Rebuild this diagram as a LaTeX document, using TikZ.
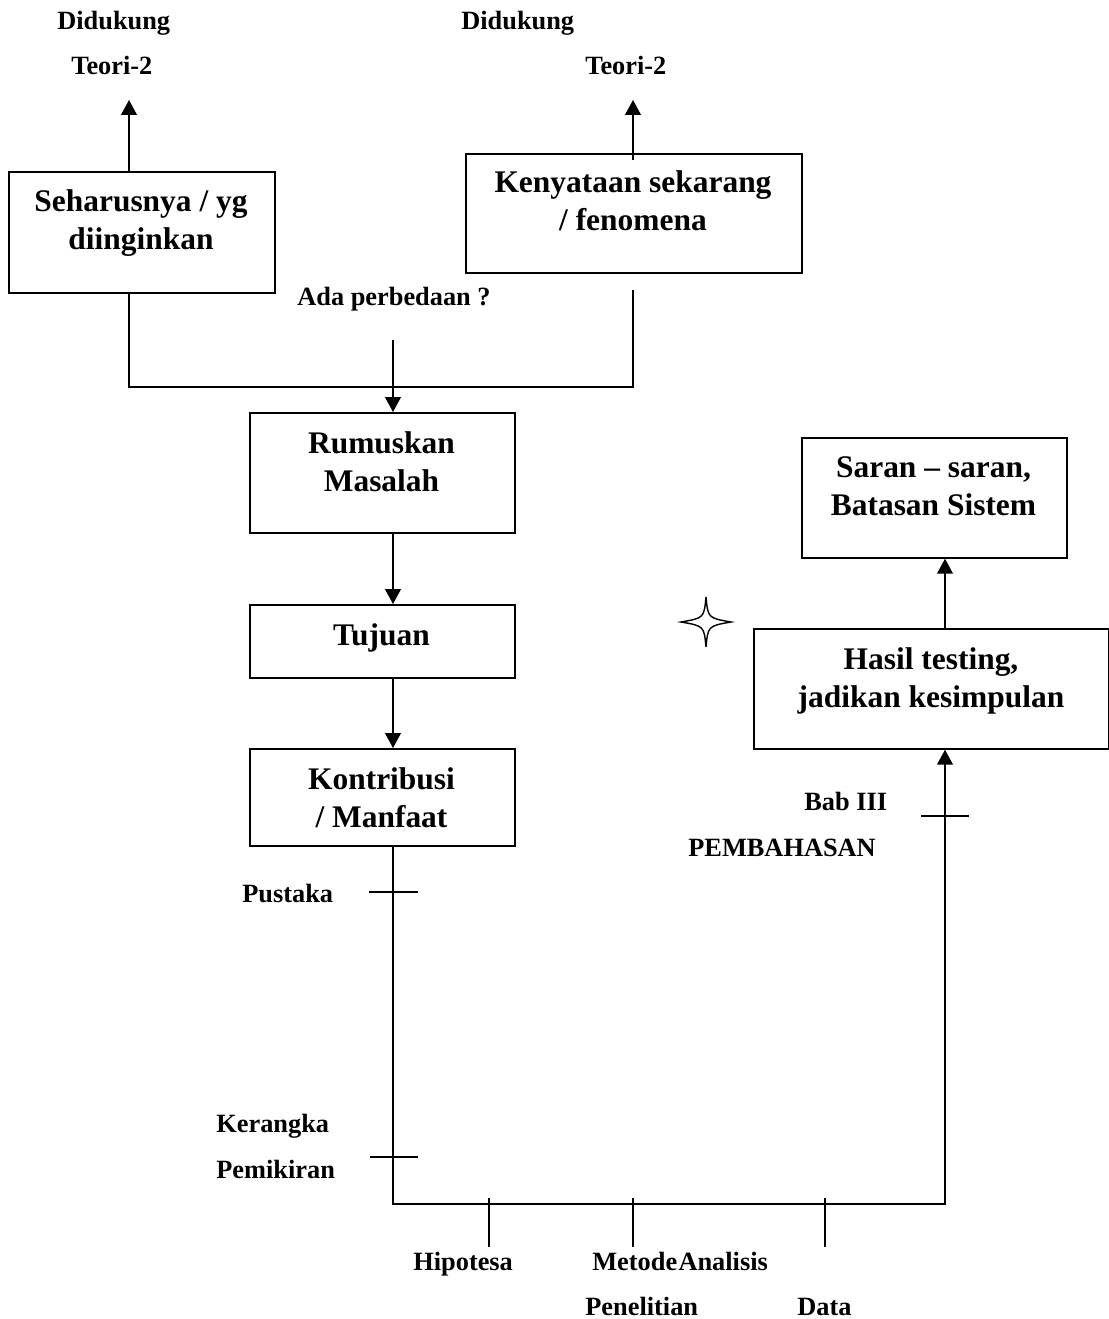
\documentclass[tikz,border=0pt]{standalone}
\usepackage{fontspec}
\setmainfont{Liberation Serif}
\usetikzlibrary{arrows.meta}
\begin{document}
\begin{tikzpicture}[x=0.02cm,y=-0.02cm,
  box/.style={draw, line width=1pt, inner sep=0pt, anchor=north west},
  big/.style={font=\fontsize{17.9}{21.5}\selectfont\bfseries, anchor=base, inner sep=0pt, align=center},
  lbl/.style={font=\fontsize{15}{18}\selectfont\bfseries, anchor=base west, inner sep=0pt},
  conn/.style={line width=0.8pt},
  arr/.style={conn, -{Triangle[length=8.5pt,width=9pt]}},
  tickmark/.style={line width=0.8pt}]
\useasboundingbox (0,0) rectangle (1109,1319);

% boxes
\node[box, minimum width=5.32cm, minimum height=2.42cm] (sb) at (8,171) {};
\node[box, minimum width=6.72cm, minimum height=2.38cm] (kn) at (465,153) {};
\node[box, minimum width=5.30cm, minimum height=2.40cm] (rm) at (249,412) {};
\node[box, minimum width=5.30cm, minimum height=1.46cm] (tj) at (249,604) {};
\node[box, minimum width=5.30cm, minimum height=1.94cm] (kt) at (249,748) {};
\node[box, minimum width=5.30cm, minimum height=2.40cm] (sr) at (801,437) {};
\node[box, minimum width=7.10cm, minimum height=2.40cm] (hs) at (753,628) {};

% box texts (anchor base = baseline of last line)
\node[big] (sbt) at (141,249) {Seharusnya / yg\\diinginkan};
\node[big] (knt) at (633,230) {Kenyataan sekarang\\/ fenomena};
\node[big] (rmt) at (381.5,491) {Rumuskan\\Masalah};
\node[big] (tjt) at (381.5,645) {Tujuan};
\node[big] (ktt) at (381.5,827) {Kontribusi\\/ Manfaat};
\node[big] (srt) at (933.5,515) {Saran -- saran,\\Batasan Sistem};
\node[big] (hst) at (931,707) {Hasil testing,\\jadikan kesimpulan};

% labels
\node[lbl] (d1) at (57,29) {Didukung};
\node[lbl] (t1) at (71,74) {Teori-2};
\node[lbl] (d2) at (461,29) {Didukung};
\node[lbl] (t2) at (585,74) {Teori-2};
\node[lbl] (ada) at (297,305) {Ada perbedaan ?};
\node[lbl] (pus) at (242,902) {Pustaka};
\node[lbl] (ker) at (216,1132) {Kerangka};
\node[lbl] (pem) at (216,1178) {Pemikiran};
\node[lbl] (bab) at (804,810) {Bab III};
\node[lbl] (pmb) at (688,856) {PEMBAHASAN};
\node[lbl] (hip) at (413,1270) {Hipotesa};
\node[lbl] (met) at (592,1270) {Metode\kern0.05em Analisis};
\node[lbl] (pen) at (585,1315) {Penelitian};
\node[lbl] (dat) at (797,1315) {Data};

% coordinates
\coordinate (a1) at (129,100);
\coordinate (a2) at (633,100);
\coordinate (a2s) at (633,160);
\coordinate (j1) at (129,387);
\coordinate (j2) at (633,387);
\coordinate (k2b) at (633,290);
\coordinate (q) at (393,340);
\coordinate (b1) at (393,1204);
\coordinate (b2) at (945,1204);

% connectors
\draw[arr] (sb.north -| a1) -- (a1);
\draw[arr] (a2s) -- (a2);
\draw[conn] (sb.south -| j1) -- (j1) -- (j2) -- (k2b);
\draw[arr] (q) -- (rm.north -| q);
\draw[arr] (rm.south -| q) -- (tj.north -| q);
\draw[arr] (tj.south -| q) -- (kt.north -| q);
\draw[arr] (kt.south -| q) -- (b1) -- (b2) -- (hs.south -| b2);
\draw[arr] (hs.north -| b2) -- (sr.south -| b2);

% tick marks
\draw[tickmark] (369,892) -- (418,892);
\draw[tickmark] (370,1157) -- (418,1157);
\draw[tickmark] (921,816) -- (969,816);
\draw[tickmark] (489,1198) -- (489,1247);
\draw[tickmark] (633,1198) -- (633,1247);
\draw[tickmark] (825,1198) -- (825,1247);

% star
\draw[line width=0.8pt] (706,597) .. controls (708,618) .. (731,622)
  .. controls (708,626) .. (706,647) .. controls (704,626) .. (681,622)
  .. controls (704,618) .. cycle;
\end{tikzpicture}
\end{document}
